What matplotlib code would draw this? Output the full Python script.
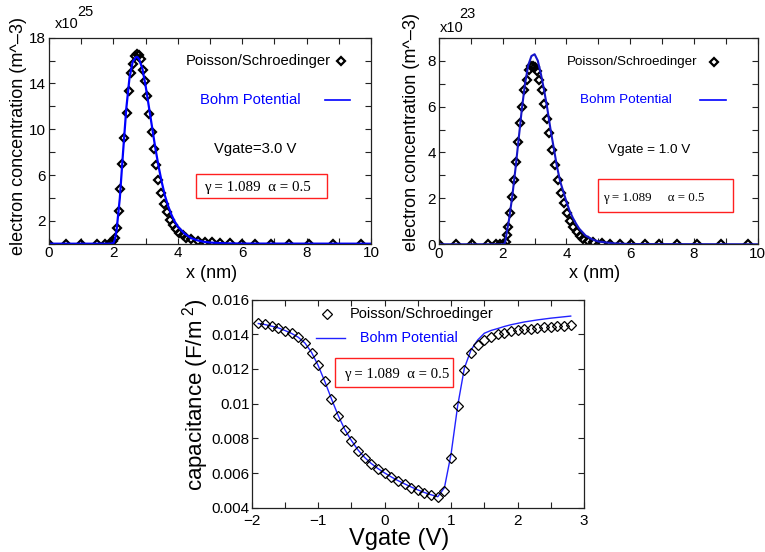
import matplotlib
matplotlib.use("Agg")
import matplotlib.pyplot as plt
from matplotlib.lines import Line2D
from matplotlib.patches import Rectangle
from matplotlib.ticker import MultipleLocator, FuncFormatter

plt.rcParams['font.family'] = ['Liberation Sans', 'DejaVu Sans']
plt.rcParams['mathtext.fontset'] = 'custom'
plt.rcParams['mathtext.rm'] = 'Liberation Sans'
plt.rcParams['mathtext.it'] = 'Liberation Sans:italic'

# ---------------- data ----------------
# Panel 1: Vgate = 3.0 V  (units of 1e25 m^-3)
ps1_x = [0, 0.52, 1.0, 1.5, 1.75, 1.9, 2.0, 2.05, 2.1, 2.16, 2.21, 2.28, 2.33, 2.41, 2.48,
         2.55, 2.62, 2.67, 2.73, 2.79, 2.85, 2.91, 2.97, 3.04, 3.11, 3.19, 3.26, 3.33, 3.40,
         3.48, 3.56, 3.65, 3.75, 3.85, 3.95, 4.05, 4.16, 4.27, 4.42, 4.62, 4.83, 5.05, 5.32,
         5.63, 5.99, 6.40, 6.89, 7.45, 8.08, 8.81, 9.69]
ps1_y = [0, 0, 0, 0, 0, 0.05, 0.2, 0.5, 1.4, 2.9, 4.8, 7.0, 9.2, 11.4, 13.3,
         14.9, 15.7, 16.4, 16.6, 16.5, 16.1, 15.2, 14.2, 12.9, 11.3, 9.8, 8.3, 6.9, 5.6,
         4.4, 3.5, 2.8, 2.1, 1.6, 1.25, 0.96, 0.73, 0.52, 0.38, 0.26, 0.17, 0.12, 0.06,
         0.03, 0, 0, 0, 0, 0, 0, 0]
bohm1_x = [0, 1.9, 2.0, 2.05, 2.1, 2.2, 2.3, 2.4, 2.5, 2.6, 2.7, 2.75, 2.8, 2.9, 3.0, 3.1,
           3.2, 3.3, 3.4, 3.5, 3.6, 3.7, 3.8, 3.9, 4.0, 4.2, 4.4, 4.6, 4.8, 5.0, 5.5, 6.0, 10.0]
bohm1_y = [0, 0, 0.05, 0.4, 1.2, 4.0, 8.0, 11.8, 14.5, 15.9, 16.3, 16.3, 16.1, 15.3, 13.8, 12.0,
           10.2, 8.4, 6.8, 5.4, 4.2, 3.3, 2.55, 1.95, 1.5, 0.9, 0.5, 0.3, 0.17, 0.1, 0.03, 0.01, 0]

# Panel 2: Vgate = 1.0 V  (units of 1e23 m^-3)
ps2_x = [0, 0.52, 1.03, 1.53, 1.79, 1.91, 2.02, 2.09, 2.12, 2.18, 2.23, 2.30, 2.36, 2.42, 2.49,
         2.54, 2.62, 2.68, 2.75, 2.82, 2.89, 2.94, 3.01, 3.09, 3.14, 3.22, 3.29, 3.38, 3.46,
         3.56, 3.64, 3.72, 3.82, 3.92, 4.03, 4.11, 4.22, 4.32, 4.42, 4.53, 4.67, 4.84, 5.10,
         5.37, 5.68, 6.01, 6.46, 6.90, 7.47, 8.11, 8.85, 9.71]
ps2_y = [0, 0, 0, 0, 0, 0, 0.02, 0.1, 0.4, 0.77, 1.38, 2.04, 2.8, 3.6, 4.46,
         5.3, 6.0, 6.7, 7.17, 7.58, 7.77, 7.78, 7.72, 7.54, 7.14, 6.71, 6.13, 5.48, 4.83,
         4.10, 3.45, 2.80, 2.25, 1.78, 1.38, 1.03, 0.74, 0.52, 0.36, 0.25, 0.16, 0.09, 0.04,
         0.01, 0, 0, 0, 0, 0, 0, 0, 0]
bohm2_x = [0, 2.0, 2.07, 2.1, 2.2, 2.3, 2.4, 2.5, 2.6, 2.7, 2.8, 2.9, 3.0, 3.1, 3.2, 3.3,
           3.4, 3.5, 3.6, 3.7, 3.8, 3.9, 4.0, 4.1, 4.2, 4.3, 4.4, 4.6, 4.8, 5.0, 5.5, 6.0, 10.0]
bohm2_y = [0, 0, 0.05, 0.3, 1.1, 2.1, 3.3, 4.6, 5.9, 7.0, 7.8, 8.2, 8.28, 8.0, 7.4, 6.7,
           5.9, 5.0, 4.2, 3.4, 2.75, 2.3, 1.85, 1.45, 1.15, 0.9, 0.68, 0.38, 0.22, 0.12, 0.04, 0.01, 0]

# Panel 3: C-V curve (capacitance in F/m^2)
vgate = [-1.9, -1.8, -1.7, -1.6, -1.5, -1.4, -1.3, -1.2, -1.1, -1.0, -0.9, -0.8, -0.7, -0.6,
         -0.5, -0.4, -0.3, -0.2, -0.1, 0.0, 0.1, 0.2, 0.3, 0.4, 0.5, 0.6, 0.7, 0.8, 0.9, 1.0,
         1.1, 1.2, 1.3, 1.4, 1.5, 1.6, 1.7, 1.8, 1.9, 2.0, 2.1, 2.2, 2.3, 2.4, 2.5, 2.6, 2.7, 2.8]
cap_ps = [0.01463, 0.01457, 0.01448, 0.01438, 0.01421, 0.01408, 0.01386, 0.01352, 0.01294,
          0.01221, 0.01131, 0.01027, 0.00931, 0.00848, 0.00785, 0.00729, 0.00689, 0.00652,
          0.00624, 0.00599, 0.00576, 0.00554, 0.00535, 0.00516, 0.00501, 0.00487, 0.00474,
          0.00460, 0.00497, 0.00689, 0.00987, 0.01194, 0.01290, 0.01338, 0.01367, 0.01386,
          0.01400, 0.01409, 0.01419, 0.01425, 0.01429, 0.01432, 0.01436, 0.01440, 0.01444,
          0.01446, 0.01450, 0.01454]
cap_bohm = [0.01462, 0.01456, 0.01447, 0.01437, 0.01422, 0.01405, 0.01383, 0.01350, 0.01296,
            0.01220, 0.01128, 0.01028, 0.00933, 0.00852, 0.00788, 0.00733, 0.00690, 0.00655,
            0.00626, 0.00601, 0.00578, 0.00557, 0.00538, 0.00520, 0.00503, 0.00488, 0.00475,
            0.00464, 0.00516, 0.00710, 0.00990, 0.01205, 0.01310, 0.01367, 0.01406, 0.01422,
            0.01433, 0.01445, 0.01455, 0.01463, 0.01471, 0.01477, 0.01483, 0.01488, 0.01493,
            0.01497, 0.01501, 0.01505]

# ---------------- layout helpers ----------------
W, H = 765, 552
fig = plt.figure(figsize=(W / 100, H / 100), dpi=100)


def rect(l, t, r, b):
    return [l / W, 1 - b / H, (r - l) / W, (b - t) / H]


def ftext(x, y, s, **kw):
    kw.setdefault('va', 'center')
    kw.setdefault('ha', 'left')
    fig.text(x / W, 1 - y / H, s, **kw)


def fline(x0, x1, y, **kw):
    fig.add_artist(Line2D([x0 / W, x1 / W], [1 - y / H, 1 - y / H],
                          transform=fig.transFigure, **kw))


def fmarker(x, y, **kw):
    fig.add_artist(Line2D([x / W], [1 - y / H], transform=fig.transFigure,
                          ls='none', **kw))


def fbox(l, t, r, b, **kw):
    fig.add_artist(Rectangle((l / W, 1 - b / H), (r - l) / W, (b - t) / H,
                             transform=fig.transFigure, fill=False, **kw))


def style_axes(ax, fs):
    for s in ax.spines.values():
        s.set_linewidth(0.9)
        s.set_color('#222222')
    ax.tick_params(which='both', direction='in', top=True, right=True,
                   length=4, width=0.8, labelsize=fs, pad=2, color='#222222')


MK12 = dict(marker='D', ms=4.0, mfc='none', mec='black', mew=1.6)
MK3 = dict(marker='D', ms=4.6, mfc='none', mec='black', mew=0.9)

# ---------------- panel 1 ----------------
ax1 = fig.add_axes(rect(49, 37.7, 371, 243.7))
ax1.plot(ps1_x, ps1_y, ls='none', **MK12)
ax1.plot(bohm1_x, bohm1_y, color='#0000ff', lw=1.6)
ax1.set_xlim(0, 10)
ax1.set_ylim(0, 18)
ax1.xaxis.set_major_locator(MultipleLocator(1))
ax1.yaxis.set_major_locator(MultipleLocator(2))
ax1.xaxis.set_major_formatter(FuncFormatter(lambda v, p: f"{v:.0f}" if round(v) % 2 == 0 else ""))
ax1.yaxis.set_major_formatter(FuncFormatter(lambda v, p: f"{v:.0f}" if round(v) % 4 == 2 else ""))
style_axes(ax1, 11)
ax1.set_xlabel('x (nm)', fontsize=13, va='center')
ax1.xaxis.set_label_coords((211.5 - 49) / 322, (243.7 - 273) / 206)
ax1.set_ylabel('electron concentration (m^\u20133)', fontsize=13, va='center', ha='center')
ax1.yaxis.set_label_coords((19 - 49) / 322, (243.7 - 136) / 206)
ftext(55, 23.5, 'x10', fontsize=10.5)
ftext(77.5, 11.5, '25', fontsize=10.5)

ftext(186, 61, 'Poisson/Schroedinger', fontsize=10.6)
fmarker(340.5, 61, **MK12)
ftext(200, 100, 'Bohm Potential', fontsize=10.6, color='#0000ff')
fline(324.5, 350, 100, color='#0000ff', lw=1.2)
ftext(255, 148.5, 'Vgate=3.0 V', fontsize=10.7, ha='center')
fbox(195.7, 173.7, 326.7, 198.3, ec='#ff2020', lw=1.0)
ftext(204, 187.5, '\u03b3 = 1.089  \u03b1 = 0.5', fontsize=10.8,
      family=['Liberation Serif', 'DejaVu Serif'])

# ---------------- panel 2 ----------------
ax2 = fig.add_axes(rect(439, 37.7, 757.7, 244.3))
ax2.plot(ps2_x, ps2_y, ls='none', **MK12)
ax2.plot(bohm2_x, bohm2_y, color='#1515c8', lw=1.5)
ax2.set_xlim(0, 10)
ax2.set_ylim(0, 9)
ax2.xaxis.set_major_locator(MultipleLocator(1))
ax2.yaxis.set_major_locator(MultipleLocator(1))
ax2.xaxis.set_major_formatter(FuncFormatter(lambda v, p: f"{v:.0f}" if round(v) % 2 == 0 else ""))
ax2.yaxis.set_major_formatter(FuncFormatter(lambda v, p: f"{v:.0f}" if round(v) % 2 == 0 else ""))
style_axes(ax2, 11)
ax2.set_xlabel('x (nm)', fontsize=13, va='center')
ax2.xaxis.set_label_coords((595 - 439) / 318.7, (244.3 - 274) / 206.6)
ax2.set_ylabel('electron concentration (m^\u20133)', fontsize=13, va='center', ha='center')
ax2.yaxis.set_label_coords((411.5 - 439) / 318.7, (244.3 - 132) / 206.6)
ftext(440, 27.7, 'x10', fontsize=10.5)
ftext(459, 14, '23', fontsize=10.5)

ftext(566.7, 61.7, 'Poisson/Schroedinger', fontsize=9.6)
fmarker(713.5, 61.7, **MK12)
ftext(580, 100, 'Bohm Potential', fontsize=9.7, color='#0000ff')
fline(700, 725.7, 100, color='#0000ff', lw=1.2)
ftext(649, 150, 'Vgate = 1.0 V', fontsize=9.7, ha='center')
fbox(598.3, 179.3, 733.3, 212.3, ec='#ff2020', lw=1.0)
ftext(603.3, 198.3, '\u03b3 = 1.089     \u03b1 = 0.5', fontsize=9.3,
      family=['Liberation Serif', 'DejaVu Serif'])

# ---------------- panel 3 ----------------
ax3 = fig.add_axes(rect(251.7, 299.6, 584, 507.8))
ax3.plot(vgate, cap_bohm, color='#2222ff', lw=1.0)
ax3.plot(vgate, cap_ps, ls='none', **MK3)
ax3.set_xlim(-2, 3)
ax3.set_ylim(0.004, 0.016)
ax3.xaxis.set_major_locator(MultipleLocator(0.5))
ax3.yaxis.set_major_locator(MultipleLocator(0.002))
ax3.xaxis.set_major_formatter(FuncFormatter(
    lambda v, p: (f"{v:.0f}".replace('-', '\u2212') if abs(v - round(v)) < 1e-6 else "")))
ax3.yaxis.set_major_formatter(FuncFormatter(lambda v, p: f"{v:.3f}".rstrip('0')))
style_axes(ax3, 11)
ax3.tick_params(axis='y', pad=1.5)
ax3.tick_params(axis='x', pad=4.5)
ax3.set_xlabel('Vgate (V)', fontsize=17, va='center')
ax3.xaxis.set_label_coords((398.7 - 251.7) / 332.3, (507.8 - 539) / 208.2)
ax3.set_ylabel('capacitance (F/m$^{\\ 2}$)', fontsize=16, va='center', ha='center')
ax3.yaxis.set_label_coords((196 - 251.7) / 332.3, (507.8 - 395) / 208.2)

fmarker(326.7, 314.3, **MK3)
ftext(350, 314.3, 'Poisson/Schroedinger', fontsize=10.5)
fline(316, 345, 338.3, color='#2222ff', lw=1.0)
ftext(360, 338.3, 'Bohm Potential', fontsize=10.4, color='#0000ff')
fbox(335, 358.3, 452.7, 387.3, ec='#ff2020', lw=1.0)
ftext(344.3, 374.3, '\u03b3 = 1.089  \u03b1 = 0.5', fontsize=10.6,
      family=['Liberation Serif', 'DejaVu Serif'])

fig.savefig('out.png', dpi=100)
